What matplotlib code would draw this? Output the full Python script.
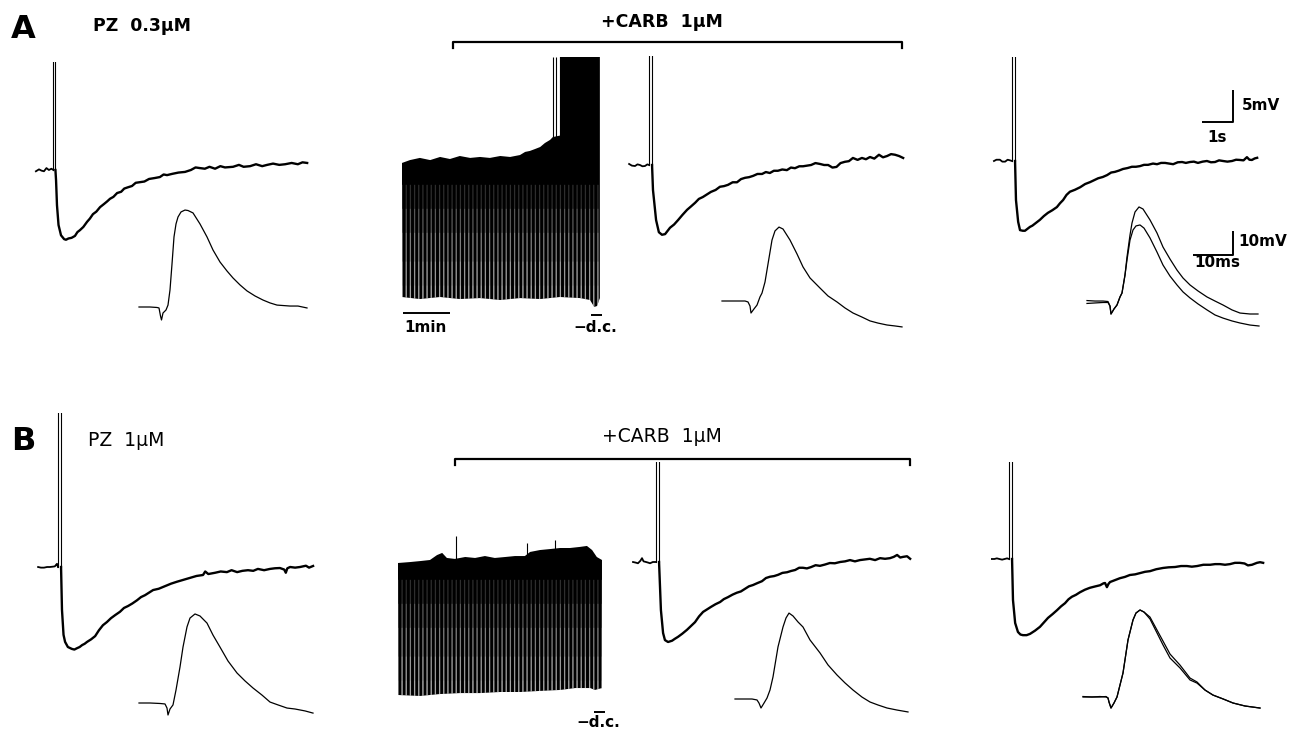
import numpy as np
import matplotlib
matplotlib.use("Agg")
import matplotlib.pyplot as plt

# ===================== DATA =====================
# Slow traces: time in s (0 = spike), membrane potential in mV (0 = pre-spike baseline)
SPIKE_PEAK = 40.0  # spikes are clipped at the top of each panel

a1_pre_t = [-0.60, -0.50, -0.42, -0.34, -0.26, -0.18, -0.10, -0.035]
a1_pre_v = [-0.2, 0.1, -0.1, -0.2, 0.3, 0.0, 0.2, 0.0]
a1_spk_t = [-0.035, 0.03]
a1_post_t = [0.03, 0.05, 0.08, 0.13, 0.21, 0.31, 0.37, 0.45, 0.55, 0.66, 0.74, 0.82, 0.93, 1.05, 1.14,
             1.24, 1.35, 1.47, 1.60, 1.70, 1.79, 1.90, 2.02, 2.15, 2.25, 2.37, 2.50, 2.62, 2.76, 2.90,
             3.05, 3.24, 3.40, 3.52, 3.63, 3.80, 4.00, 4.21, 4.40, 4.55, 4.69, 4.85, 5.00, 5.18, 5.35,
             5.50, 5.76, 5.95, 6.10, 6.31, 6.50, 6.70, 6.86, 7.05, 7.25, 7.44, 7.65, 7.85, 8.00, 8.15]
a1_post_v = [0.0, -1.6, -5.5, -8.6, -10.2, -10.8, -10.9, -10.7, -10.6, -10.3, -9.7, -9.4, -8.9, -8.1, -7.6,
             -6.9, -6.5, -5.8, -5.3, -4.9, -4.5, -4.2, -3.6, -3.4, -2.9, -2.7, -2.5, -2.0, -1.9, -1.8,
             -1.4, -1.25, -1.1, -0.7, -0.8, -0.6, -0.4, -0.3, 0.0, 0.4, 0.3, 0.2, 0.5, 0.2, 0.6,
             0.4, 0.5, 0.8, 0.5, 0.6, 0.9, 0.6, 0.8, 1.0, 0.8, 0.9, 1.1, 0.9, 1.2, 1.1]

a3_pre_t = [-0.69, -0.60, -0.50, -0.42, -0.34, -0.26, -0.18, -0.10, -0.05]
a3_pre_v = [0.16, -0.1, -0.16, 0.1, 0.0, -0.2, -0.16, 0.1, 0.0]
a3_spk_t = [-0.05, 0.05]
a3_post_t = [0.05, 0.08, 0.18, 0.27, 0.37, 0.47, 0.55, 0.63, 0.76, 0.89, 1.03, 1.18, 1.30, 1.44, 1.56,
             1.69, 1.82, 1.95, 2.10, 2.24, 2.37, 2.50, 2.65, 2.79, 2.92, 3.05, 3.18, 3.31, 3.45, 3.60,
             3.72, 3.85, 3.98, 4.11, 4.25, 4.40, 4.53, 4.66, 4.80, 4.92, 5.05, 5.18, 5.32, 5.47, 5.60,
             5.73, 5.87, 6.00, 6.13, 6.27, 6.40, 6.53, 6.68, 6.82, 6.95, 7.08, 7.22, 7.37, 7.50, 7.63,
             7.76, 7.89, 8.02, 8.15]
a3_post_v = [0.0, -3.9, -8.6, -10.5, -10.9, -10.8, -10.3, -9.8, -9.3, -8.6, -7.8, -7.0, -6.5, -5.9, -5.3,
             -5.0, -4.6, -4.2, -3.9, -3.4, -3.3, -3.1, -2.7, -2.7, -2.2, -2.0, -1.9, -1.7, -1.4, -1.4,
             -1.1, -1.25, -0.9, -0.9, -0.7, -0.8, -0.4, -0.5, -0.2, -0.2, -0.1, 0.0, 0.3, 0.16, 0.0,
             0.0, -0.4, -0.3, 0.3, 0.5, 0.6, 1.1, 0.8, 1.1, 0.9, 1.25, 1.0, 1.6, 1.2, 1.4,
             1.7, 1.6, 1.4, 1.1]

a4_pre_t = [-0.63, -0.55, -0.44, -0.36, -0.27, -0.19, -0.11, -0.05]
a4_pre_v = [0.0, 0.2, 0.2, -0.1, -0.1, 0.2, 0.1, 0.0]
a4_spk_t = [-0.05, 0.05]
a4_post_t = [0.05, 0.08, 0.15, 0.21, 0.30, 0.37, 0.45, 0.53, 0.61, 0.69, 0.77, 0.85, 0.98, 1.11, 1.25,
             1.40, 1.50, 1.60, 1.71, 1.82, 1.98, 2.15, 2.31, 2.47, 2.60, 2.73, 2.88, 3.02, 3.15, 3.27,
             3.40, 3.53, 3.68, 3.82, 3.95, 4.08, 4.21, 4.34, 4.50, 4.63, 4.76, 4.89, 5.02, 5.15, 5.30,
             5.44, 5.56, 5.69, 5.82, 5.95, 6.10, 6.24, 6.37, 6.50, 6.63, 6.76, 6.90, 7.05, 7.18, 7.31,
             7.42, 7.53, 7.61, 7.69, 7.78, 7.86]
a4_post_v = [0.0, -6.1, -9.5, -10.8, -10.9, -10.9, -10.6, -10.3, -10.1, -9.8, -9.5, -9.2, -8.6, -8.1, -7.7,
             -7.2, -6.6, -6.1, -5.3, -4.8, -4.5, -4.1, -3.6, -3.3, -3.0, -2.7, -2.5, -2.2, -1.8, -1.7,
             -1.5, -1.25, -1.1, -0.9, -0.9, -0.8, -0.6, -0.6, -0.4, -0.5, -0.3, -0.3, -0.4, -0.5, -0.2,
             -0.16, -0.3, -0.16, -0.1, -0.3, -0.1, 0.0, -0.2, -0.16, 0.1, 0.0, -0.1, 0.0, 0.2, 0.16,
             0.1, 0.6, 0.2, 0.16, 0.4, 0.5]

b1_pre_t = [-0.69, -0.60, -0.50, -0.40, -0.31, -0.22, -0.15, -0.10, -0.08, -0.05]
b1_pre_v = [0.0, -0.1, -0.1, 0.0, 0.0, 0.05, 0.1, 0.4, 0.5, 0.0]
b1_spk_t = [-0.05, 0.05]
b1_post_t = [0.05, 0.08, 0.13, 0.18, 0.27, 0.40, 0.48, 0.56, 0.65, 0.73, 0.81, 0.89, 1.02, 1.15, 1.27,
             1.40, 1.53, 1.66, 1.80, 1.95, 2.08, 2.21, 2.35, 2.50, 2.63, 2.76, 2.89, 3.02, 3.20, 3.40,
             3.60, 3.79, 4.00, 4.21, 4.42, 4.63, 4.70, 4.80, 5.02, 5.20, 5.40, 5.55, 5.73, 5.90, 6.08,
             6.25, 6.40, 6.60, 6.79, 6.95, 7.11, 7.25, 7.30, 7.35, 7.44, 7.60, 7.76, 7.95, 8.05, 8.18]
b1_post_v = [0.0, -6.7, -10.6, -11.7, -12.5, -12.8, -12.9, -12.7, -12.5, -12.2, -12.0, -11.7, -11.3, -10.8, -9.9,
             -9.1, -8.6, -8.0, -7.5, -7.0, -6.4, -6.1, -5.7, -5.2, -4.7, -4.4, -4.0, -3.6, -3.4, -3.0,
             -2.6, -2.3, -2.0, -1.7, -1.4, -1.25, -0.7, -1.1, -0.9, -0.7, -0.8, -0.5, -0.8, -0.6, -0.5,
             -0.6, -0.3, -0.5, -0.3, -0.2, -0.16, -0.4, -0.9, -0.2, 0.0, -0.1, 0.0, 0.2, -0.1, 0.16]

b3_pre_t = [-0.79, -0.70, -0.63, -0.55, -0.50, -0.45, -0.37, -0.30, -0.24, -0.15, -0.08, -0.05]
b3_pre_v = [0.0, -0.1, -0.2, 0.2, 0.6, 0.1, 0.0, -0.1, -0.2, 0.0, 0.0, 0.0]
b3_spk_t = [-0.05, 0.05]
b3_post_t = [0.05, 0.11, 0.18, 0.24, 0.34, 0.47, 0.56, 0.66, 0.80, 0.95, 1.08, 1.21, 1.34, 1.47, 1.60,
             1.73, 1.87, 2.02, 2.14, 2.27, 2.42, 2.56, 2.69, 2.82, 2.95, 3.08, 3.22, 3.37, 3.50, 3.63,
             3.76, 3.89, 4.03, 4.18, 4.31, 4.44, 4.57, 4.69, 4.82, 4.95, 5.10, 5.24, 5.40, 5.56, 5.72,
             5.89, 6.05, 6.21, 6.37, 6.53, 6.69, 6.85, 7.02, 7.18, 7.34, 7.50, 7.62, 7.73, 7.83, 7.92,
             8.05, 8.15]
b3_post_v = [0.0, -7.5, -11.1, -12.2, -12.5, -12.3, -12.0, -11.7, -11.2, -10.6, -10.0, -9.4, -8.5, -7.8, -7.4,
             -7.0, -6.6, -6.25, -5.8, -5.5, -5.1, -4.8, -4.6, -4.2, -3.8, -3.6, -3.3, -3.0, -2.5, -2.3,
             -2.2, -2.0, -1.7, -1.6, -1.4, -1.25, -0.9, -0.9, -1.0, -0.8, -0.5, -0.6, -0.4, -0.16, -0.2,
             0.0, 0.1, 0.3, 0.1, 0.3, 0.4, 0.5, 0.3, 0.6, 0.5, 0.6, 0.8, 1.1, 0.7, 0.8,
             0.9, 0.5]

b4_pre_t = [-0.60, -0.52, -0.44, -0.36, -0.27, -0.19, -0.11, -0.05]
b4_pre_v = [0.0, 0.0, 0.1, 0.0, -0.1, 0.0, 0.1, 0.0]
b4_spk_t = [-0.05, 0.05]
b4_post_t = [0.05, 0.08, 0.15, 0.24, 0.32, 0.40, 0.52, 0.63, 0.79, 0.95, 1.08, 1.21, 1.36, 1.50, 1.63,
             1.76, 1.87, 1.98, 2.11, 2.24, 2.40, 2.56, 2.72, 2.89, 3.00, 3.05, 3.11, 3.16, 3.21, 3.37,
             3.53, 3.69, 3.85, 4.02, 4.18, 4.34, 4.50, 4.70, 4.92, 5.10, 5.31, 5.50, 5.69, 5.85, 6.02,
             6.22, 6.44, 6.60, 6.76, 6.92, 7.08, 7.24, 7.40, 7.55, 7.66, 7.79, 7.95, 8.05, 8.15]
b4_post_v = [0.0, -6.4, -10.0, -11.4, -11.8, -11.9, -11.9, -11.7, -11.2, -10.6, -9.9, -9.2, -8.6, -8.0, -7.4,
             -6.9, -6.3, -5.9, -5.6, -5.2, -4.8, -4.5, -4.3, -4.1, -3.8, -3.75, -4.4, -3.9, -3.6, -3.3,
             -3.0, -2.8, -2.5, -2.4, -2.2, -2.0, -1.9, -1.6, -1.4, -1.3, -1.25, -1.1, -1.1, -1.2, -1.1,
             -0.9, -0.9, -0.8, -0.8, -0.9, -0.8, -0.6, -0.6, -0.7, -1.0, -0.9, -0.6, -0.5, -0.6]

# Fast traces (evoked EPSP): time in ms (0 = stimulus), potential in mV (0 = baseline)
a1_f_t = [-5.25, -2.5, -0.75, -0.25, 0.125, 0.375, 0.75, 1.5, 2.0, 2.5, 3.0, 3.5, 4.0, 4.5, 5.25, 6.25, 7.0,
          8.25, 10.0, 11.75, 13.25, 15.0, 16.75, 18.25, 20.0, 21.75, 23.75, 25.75, 27.5, 29.25, 32.5, 34.5, 36.75]
a1_f_v = [0.0, 0.0, -0.2, -0.4, -3.75, -5.4, -2.5, -1.25, 0.8, 7.1, 17.9, 29.2, 34.6, 37.5, 39.6, 40.4, 40.2,
          39.2, 34.6, 29.2, 23.75, 18.75, 15.0, 12.1, 9.2, 6.7, 4.6, 2.9, 1.7, 0.8, 0.4, 0.4, -0.4]

a3_f_t = [-7.0, -3.75, -1.25, -0.5, 0.0, 0.25, 1.0, 1.75, 2.5, 3.0, 3.75, 4.25, 5.0, 5.5, 6.25, 7.25, 8.25,
          10.0, 11.75, 13.25, 15.0, 17.5, 19.5, 21.75, 23.75, 25.75, 28.0, 30.0, 32.0, 34.25, 36.25, 38.0]
a3_f_v = [0.0, 0.0, 0.0, -0.4, -2.1, -5.0, -3.3, -1.7, 1.7, 3.3, 7.9, 12.9, 20.4, 25.4, 29.2, 30.8, 30.0,
          25.4, 19.6, 14.2, 9.6, 5.4, 2.1, -0.4, -2.9, -5.0, -6.7, -8.3, -9.2, -10.0, -10.4, -10.8]

a4_f1_t = [-5.75, -3.75, -1.75, -0.5, 0.0, 0.25, 1.0, 1.75, 2.5, 3.0, 3.75, 4.25, 5.0, 5.5, 6.25, 7.25, 8.25,
           10.0, 11.75, 13.25, 15.0, 16.75, 18.25, 20.0, 22.0, 24.25, 26.25, 28.25, 30.5, 32.5, 35.0, 37.0]
a4_f1_v = [0.6, 0.4, 0.4, 0.2, -1.7, -5.0, -2.9, -1.25, 2.1, 3.75, 11.25, 18.75, 27.9, 32.9, 37.5, 39.6, 38.75,
           34.2, 28.75, 22.9, 17.9, 13.3, 10.0, 7.1, 4.6, 2.1, 0.4, -1.25, -3.3, -4.6, -5.0, -5.0]
a4_f2_t = [-5.75, -3.75, -1.75, -0.5, 0.0, 0.25, 1.0, 1.75, 2.5, 3.0, 3.75, 4.25, 5.0, 5.75, 6.5, 7.5, 8.5,
           10.0, 11.75, 13.25, 15.0, 16.75, 18.25, 20.0, 22.0, 24.25, 26.25, 28.25, 30.5, 32.5, 35.0, 37.25]
a4_f2_v = [-0.6, -0.4, -0.2, -0.2, -1.7, -5.0, -2.9, -1.25, 2.1, 3.75, 11.25, 17.5, 25.8, 30.0, 31.7, 32.1, 30.8,
           26.7, 20.8, 15.4, 10.8, 7.1, 4.2, 1.7, -0.8, -3.3, -5.4, -6.7, -7.9, -8.75, -9.6, -10.0]

b1_f_t = [-7.0, -4.25, -1.75, -0.5, 0.0, 0.25, 0.75, 1.5, 2.25, 3.25, 4.0, 5.0, 5.75, 7.0, 8.25, 10.0, 11.5,
          13.25, 15.25, 17.5, 19.5, 21.5, 23.75, 25.75, 27.75, 30.0, 32.0, 34.5, 36.5]
b1_f_v = [0.0, 0.0, -0.2, -0.4, -2.1, -5.0, -2.5, -0.8, 5.4, 15.0, 23.3, 31.7, 35.4, 37.1, 36.25, 33.3, 28.3,
          23.3, 17.5, 12.5, 9.2, 6.25, 3.3, 0.4, -0.8, -2.1, -2.5, -3.3, -4.2]

b3_f_t = [-6.0, -3.5, -1.75, -0.5, 0.0, 0.5, 1.25, 2.0, 2.75, 3.5, 4.75, 6.0, 6.75, 7.5, 8.5, 9.75, 11.0,
          12.75, 15.25, 17.25, 19.5, 21.5, 23.5, 25.75, 27.75, 29.75, 32.0, 34.5, 37.25]
b3_f_v = [0.0, 0.0, 0.0, -0.4, -1.7, -3.75, -1.7, 0.4, 3.75, 9.2, 21.7, 30.0, 33.75, 35.8, 34.6, 32.1, 30.0,
          24.6, 19.2, 14.2, 10.0, 6.7, 3.75, 0.8, -1.25, -2.5, -3.75, -4.6, -5.4]

b4_f1_t = [-6.5, -4.25, -2.25, -0.75, -0.25, 0.0, 0.5, 1.25, 2.0, 2.75, 3.5, 4.75, 6.0, 6.75, 7.75, 8.75,
           10.25, 12.0, 13.5, 15.25, 17.75, 20.25, 22.0, 24.0, 26.0, 28.5, 31.0, 34.0, 37.75]
b4_f1_v = [0.0, 0.0, 0.2, 0.0, -0.4, -2.1, -4.6, -2.5, 0.0, 5.0, 10.0, 23.75, 32.1, 35.0, 36.25, 35.4,
           32.5, 26.7, 21.7, 16.25, 12.1, 7.1, 5.8, 2.9, 0.8, -0.8, -2.5, -3.75, -4.6]
b4_f2_t = [-6.5, -4.25, -2.25, -0.75, -0.25, 0.0, 0.5, 1.25, 2.0, 2.75, 3.5, 4.75, 6.0, 6.75, 7.75, 8.75,
           10.25, 12.0, 13.5, 15.25, 17.75, 20.25, 22.0, 24.0, 26.0, 28.5, 31.0, 34.0, 37.75]
b4_f2_v = [0.2, 0.0, 0.0, 0.2, -0.4, -2.1, -4.6, -2.5, 0.0, 5.0, 10.0, 23.75, 32.1, 35.0, 36.25, 35.4,
           33.3, 27.9, 23.3, 17.9, 13.3, 7.9, 6.25, 2.9, 0.8, -0.8, -2.5, -3.75, -4.6]

# Chart-recorder traces during carbachol: time in min, potential envelope in mV
a2_top_t = [0.00, 0.17, 0.38, 0.60, 0.81, 1.02, 1.23, 1.45, 1.66, 1.87, 2.09, 2.30, 2.51, 2.62, 2.72, 2.83,
            2.94, 3.04, 3.15, 3.21, 3.36, 3.36, 4.21]
a2_top_v = [57.1, 58.3, 59.2, 58.3, 59.6, 58.75, 60.0, 59.2, 59.6, 59.2, 60.0, 59.6, 60.4, 61.7, 62.1, 62.9,
            63.75, 65.4, 66.7, 67.9, 68.5, 101.25, 101.25]
a2_bot_t = [0.00, 0.38, 0.81, 1.23, 1.66, 2.09, 2.51, 2.94, 3.36, 3.79, 4.00, 4.09, 4.15, 4.21]
a2_bot_v = [1.25, 0.4, 1.25, 0.4, 0.8, 0.0, 0.8, 0.4, 1.25, 0.8, 0.0, -2.9, -2.5, 0.8]
a2_spike_t = [3.22, 3.28]
a2_spike_v = [101.25, 101.25]

b2_top_t = [0.00, 0.26, 0.47, 0.68, 0.83, 0.94, 1.04, 1.21, 1.43, 1.64, 1.85, 2.06, 2.28, 2.49, 2.70, 2.81,
            3.02, 3.23, 3.45, 3.66, 3.87, 4.02, 4.13, 4.23, 4.34]
b2_top_v = [55.0, 55.4, 55.8, 56.25, 58.3, 59.2, 57.1, 56.7, 57.5, 57.1, 57.9, 57.1, 57.5, 57.9, 57.9, 59.6,
            60.4, 60.8, 61.25, 61.25, 61.7, 62.1, 60.4, 57.5, 56.25]
b2_bot_t = [0.00, 0.47, 0.89, 1.32, 1.74, 2.17, 2.60, 3.02, 3.45, 3.77, 4.09, 4.19, 4.34]
b2_bot_v = [0.0, -0.4, 0.4, 0.8, 0.8, 1.25, 1.25, 1.7, 2.1, 2.9, 2.9, 2.1, 2.9]
b2_spike_t = [1.23, 2.74, 3.34]
b2_spike_v = [66.25, 63.3, 64.6]

# Labels
panel_labels = ["A", "B"]
control_labels = ["PZ  0.3\u03bcM", "PZ  1\u03bcM"]
drug_label = "+CARB  1\u03bcM"

# ===================== FIGURE =====================
W, H = 1293, 736
fig = plt.figure(figsize=(W / 100, H / 100), dpi=100)
fig.patch.set_facecolor("white")
plt.rcParams["hatch.linewidth"] = 0.9

SLOW_SX, SLOW_SY = 31.0, 6.4     # px per s, px per mV
FAST_SX, FAST_SY = 4.0, 2.4      # px per ms, px per mV
CHART_SX, CHART_SY = 47.0, 2.4   # px per min, px per mV
# levels (mV) below which individual pen strokes show through, with their extra lightness
CHART_BANDS = [(48.0, 0.18), (38.0, 0.2), (28.0, 0.22), (16.0, 0.22), (6.0, 0.15)]


def make_ax(x0, y0, sx, sy, xlim, ylim):
    left = x0 + xlim[0] * sx
    right = x0 + xlim[1] * sx
    bottom = y0 - ylim[0] * sy
    top = y0 - ylim[1] * sy
    ax = fig.add_axes([left / W, 1 - bottom / H, (right - left) / W, (bottom - top) / H])
    ax.set_xlim(*xlim)
    ax.set_ylim(*ylim)
    ax.axis("off")
    ax.patch.set_alpha(0)
    return ax


def draw_slow(x0, y0, top_mv, pre_t, pre_v, spk_t, post_t, post_v):
    ax = make_ax(x0, y0, SLOW_SX, SLOW_SY, (-1.0, 8.6), (-15.0, top_mv))
    ax.plot(pre_t, pre_v, color="k", lw=1.3, solid_joinstyle="round")
    ax.plot([spk_t[0], spk_t[0], spk_t[1], spk_t[1]], [pre_v[-1], SPIKE_PEAK, SPIKE_PEAK, post_v[0]],
            color="k", lw=0.8)
    ax.plot(post_t, post_v, color="k", lw=1.7, solid_joinstyle="round")
    return ax


def draw_fast(x0, y0, traces):
    ax = make_ax(x0, y0, FAST_SX, FAST_SY, (-9.0, 40.0), (-15.0, 45.0))
    for t, v in traces:
        ax.plot(t, v, color="k", lw=0.9)
    return ax


def draw_chart(x0, y0, top_t, top_v, bot_t, bot_v, spk_t, spk_v, ylim):
    ax = make_ax(x0, y0, CHART_SX, CHART_SY, (-0.3, 4.6), ylim)
    poly_t = list(top_t) + list(bot_t)[::-1]
    poly_v = list(top_v) + list(bot_v)[::-1]
    ax.fill(poly_t, poly_v, color="k", lw=0)
    for level, alpha in CHART_BANDS:
        low_t = list(bot_t) + [bot_t[-1], bot_t[0]]
        low_v = list(bot_v) + [level, level]
        ax.fill(low_t, low_v, facecolor="none", edgecolor=(1, 1, 1, alpha), hatch="||||", lw=0)
    ax.vlines(spk_t, [min(top_v)] * len(spk_t), spk_v, color="k", lw=0.8)
    ax.set_xlim(-0.3, 4.6)
    ax.set_ylim(*ylim)
    return ax


# ---- Panel A ----
draw_slow(54.5, 170, 16.9, a1_pre_t, a1_pre_v, a1_spk_t, a1_post_t, a1_post_v)
draw_slow(650.5, 165, 17.0, a3_pre_t, a3_pre_v, a3_spk_t, a3_post_t, a3_post_v)
ax_a4 = draw_slow(1013.5, 161, 16.25, a4_pre_t, a4_pre_v, a4_spk_t, a4_post_t, a4_post_v)
draw_fast(160, 307, [(a1_f_t, a1_f_v)])
draw_fast(750, 301, [(a3_f_t, a3_f_v)])
ax_a4f = draw_fast(1110, 302, [(a4_f1_t, a4_f1_v), (a4_f2_t, a4_f2_v)])
ax_a2 = draw_chart(402, 300, a2_top_t, a2_top_v, a2_bot_t, a2_bot_v, a2_spike_t, a2_spike_v, (-15.0, 101.25))

# ---- Panel B ----
draw_slow(59.5, 567, 24.0, b1_pre_t, b1_pre_v, b1_spk_t, b1_post_t, b1_post_v)
draw_slow(657.5, 562, 15.6, b3_pre_t, b3_pre_v, b3_spk_t, b3_post_t, b3_post_v)
draw_slow(1010.5, 559, 15.2, b4_pre_t, b4_pre_v, b4_spk_t, b4_post_t, b4_post_v)
draw_fast(167, 703, [(b1_f_t, b1_f_v)])
draw_fast(759, 699, [(b3_f_t, b3_f_v)])
draw_fast(1109, 697, [(b4_f1_t, b4_f1_v), (b4_f2_t, b4_f2_v)])
ax_b2 = draw_chart(398, 695, b2_top_t, b2_top_v, b2_bot_t, b2_bot_v, b2_spike_t, b2_spike_v, (-15.0, 70.0))

# ---- Scale bars ----
bar_kw = dict(color="k", lw=1.4, solid_capstyle="butt")
txt_kw = dict(family="DejaVu Sans", fontweight="bold", color="k")
# slow: 1 s, 5 mV
ax_a4.plot([6.08, 7.08, 7.08], [6.1, 6.1, 11.1], **bar_kw)
ax_a4.text(7.35, 8.6, "5mV", fontsize=11, ha="left", va="center", **txt_kw)
ax_a4.text(6.58, 3.6, "1s", fontsize=11, ha="center", va="center", **txt_kw)
# fast: 10 ms, 10 mV
ax_a4f.plot([20.75, 30.75, 30.75], [19.6, 19.6, 29.6], **bar_kw)
ax_a4f.text(32.0, 25.4, "10mV", fontsize=11, ha="left", va="center", **txt_kw)
ax_a4f.text(21.0, 16.5, "10ms", fontsize=11, ha="left", va="center", **txt_kw)
# chart: 1 min
ax_a2.plot([0.02, 1.02], [-5.4, -5.4], **bar_kw)
ax_a2.text(0.5, -11.5, "1min", fontsize=11, ha="center", va="center", **txt_kw)
ax_a2.text(4.11, -11.5, "\u2212d.c.", fontsize=11, ha="center", va="center", **txt_kw)
ax_a2.plot([4.02, 4.26], [-6.3, -6.3], **bar_kw)
ax_b2.text(4.26, -11.5, "\u2212d.c.", fontsize=11, ha="center", va="center", **txt_kw)
ax_b2.plot([4.17, 4.41], [-7.0, -7.0], **bar_kw)

# ---- Annotation layer (labels, drug brackets) ----
ann = fig.add_axes([0, 0, 1, 1])
ann.set_xlim(0, W)
ann.set_ylim(H, 0)
ann.axis("off")
ann.patch.set_alpha(0)

ann.text(11, 29, panel_labels[0], fontsize=23, ha="left", va="center", **txt_kw)
ann.text(11, 441, panel_labels[1], fontsize=23, ha="left", va="center", **txt_kw)
ann.text(93, 26, control_labels[0], fontsize=12.5, ha="left", va="center", **txt_kw)
ann.text(88, 440, control_labels[1], fontsize=13.5, ha="left", va="center",
         family="DejaVu Sans", color="k")
ann.text(662, 22, drug_label, fontsize=12.5, ha="center", va="center", **txt_kw)
ann.text(662, 437, drug_label, fontsize=13.5, ha="center", va="center", family="DejaVu Sans", color="k")
ann.plot([453, 453, 902, 902], [48, 42, 42, 48], color="k", lw=1.6)
ann.plot([455, 455, 910, 910], [465, 459, 459, 465], color="k", lw=1.6)

fig.savefig("out.png", dpi=100, facecolor="white")
